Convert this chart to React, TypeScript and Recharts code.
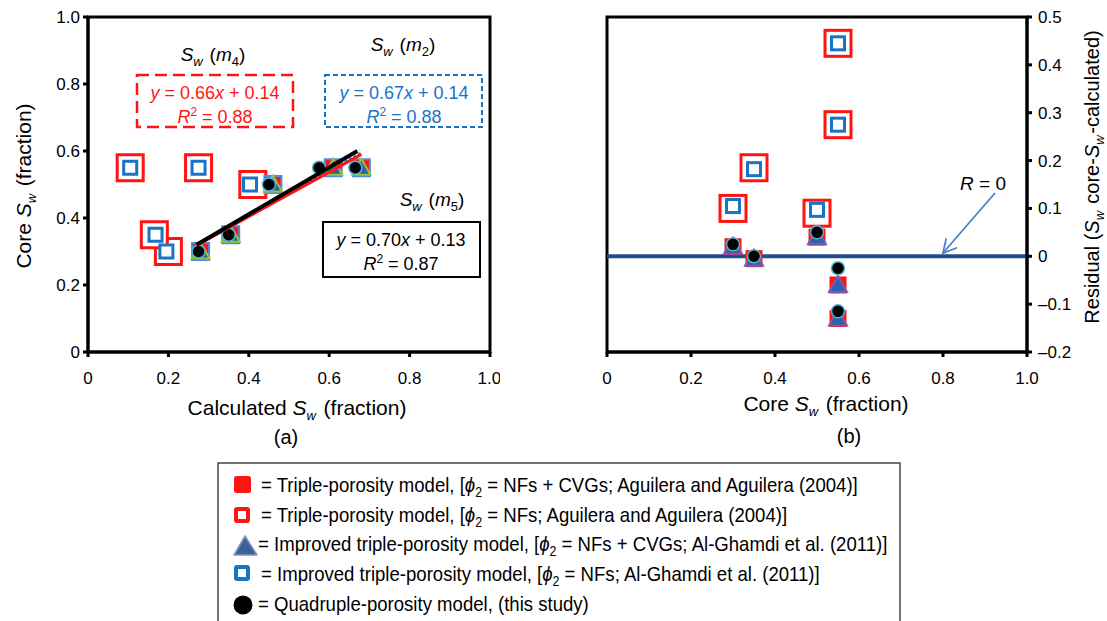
import React from 'react';
import {
  ScatterChart,
  Scatter,
  XAxis,
  YAxis,
  ReferenceArea,
  ReferenceLine,
} from 'recharts';

// five core samples (core Sw, fraction)
const coreSw = [0.3, 0.35, 0.5, 0.55, 0.55];

// calculated Sw per model, same sample order as coreSw
const tripleNfCvg = [0.28, 0.355, 0.46, 0.61, 0.68];
const tripleNf = [0.2, 0.165, 0.41, 0.105, 0.275];
const improvedNfCvg = [0.28, 0.355, 0.46, 0.61, 0.68];
const improvedNf = [0.195, 0.168, 0.403, 0.105, 0.275];
const quadruple = [0.275, 0.35, 0.45, 0.575, 0.665];

// trend line end points
const fitM4X = [0.28, 0.68];
const fitM4Y = [0.325, 0.59];
const fitM2X = [0.28, 0.68];
const fitM2Y = [0.328, 0.595];
const fitM5X = [0.27, 0.67];
const fitM5Y = [0.32, 0.6];

const xTicks = [0, 0.2, 0.4, 0.6, 0.8, 1.0];
const coreTicks = [0, 0.2, 0.4, 0.6, 0.8, 1.0];
const residTicks = [-0.2, -0.1, 0, 0.1, 0.2, 0.3, 0.4, 0.5];

const legendHead = [
  '= Triple-porosity model, [',
  '= Triple-porosity model, [',
  '= Improved triple-porosity model, [',
  '= Improved triple-porosity model, [',
];
const legendTail = [
  ' = NFs + CVGs; Aguilera and Aguilera (2004)]',
  ' = NFs; Aguilera and Aguilera (2004)]',
  ' = NFs + CVGs; Al-Ghamdi et al. (2011)]',
  ' = NFs; Al-Ghamdi et al. (2011)]',
];
const legendLast = '= Quadruple-porosity model, (this study)';

const RED = '#ff1414';
const BLUE = '#1874c6';
const FONT = '"Liberation Sans", Arial, Helvetica, sans-serif';

const toCross = (calc: number[]) => calc.map((c, i) => ({ x: c, y: coreSw[i] }));
const toResid = (calc: number[]) => calc.map((c, i) => ({ x: coreSw[i], y: coreSw[i] - c }));
const toLine = (xs: number[], ys: number[]) => xs.map((x, i) => ({ x, y: ys[i] }));

const fmtTick = (v: number) => {
  if (v === 0) return '0';
  if (v < 0) return '\u2013' + Math.abs(v).toFixed(1);
  return v.toFixed(1);
};

const OpenSquare = ({ cx, cy, size, color, width }: any) => (
  <rect
    x={cx - size / 2}
    y={cy - size / 2}
    width={size}
    height={size}
    fill="#fff"
    stroke={color}
    strokeWidth={width}
  />
);

const FilledSquare = ({ cx, cy, edge }: any) => (
  <rect
    x={cx - 8.5}
    y={cy - 8.5}
    width={17}
    height={17}
    fill={RED}
    stroke={edge || 'none'}
    strokeWidth={2}
  />
);

const Tri = ({ cx, cy, edge }: any) => (
  <polygon
    points={`${cx},${cy - 9} ${cx - 9},${cy + 7} ${cx + 9},${cy + 7}`}
    fill="#2a62ad"
    stroke={edge}
    strokeWidth={2}
  />
);

const Dot = ({ cx, cy }: any) => (
  <circle cx={cx} cy={cy} r={6.5} fill="#000" stroke="#4fb6d2" strokeWidth={1.5} />
);

const noShape = () => <g />;

const tickStyle = { fill: '#000', fontSize: 17, fontFamily: FONT };

const Sub = ({ base, sub }: any) => (
  <>
    <tspan fontStyle="italic">{base}</tspan>
    <tspan fontSize="13" dy="5" fontStyle="italic">
      {sub}
    </tspan>
    <tspan dy="-5">{'\u200a'}</tspan>
  </>
);

const SwM = ({ x, y, m }: any) => (
  <text x={x} y={y} textAnchor="middle" fontSize={19} fontFamily={FONT}>
    <Sub base="S" sub="w" />
    <tspan> (</tspan>
    <tspan fontStyle="italic">m</tspan>
    <tspan fontSize="13" dy="5">{m}</tspan>
    <tspan dy="-5">)</tspan>
  </text>
);

const Eq = ({ x, y, a, b, r2, color }: any) => (
  <g fontSize={18} fontFamily={FONT} fill={color} textAnchor="middle">
    <text x={x} y={y}>
      <tspan fontStyle="italic">y</tspan>
      <tspan>{` = ${a}`}</tspan>
      <tspan fontStyle="italic">x</tspan>
      <tspan>{` + ${b}`}</tspan>
    </text>
    <text x={x} y={y + 24}>
      <tspan fontStyle="italic">R</tspan>
      <tspan fontSize="12" dy="-7">2</tspan>
      <tspan dy="7">{` = ${r2}`}</tspan>
    </text>
  </g>
);

const LeftChart = () => (
  <ScatterChart width={500} height={460} margin={{ top: 17, right: 10, bottom: 0, left: 0 }}>
    <XAxis
      type="number"
      dataKey="x"
      domain={[0, 1]}
      ticks={xTicks}
      tickFormatter={fmtTick}
      height={108}
      axisLine={{ stroke: '#000', strokeWidth: 3 }}
      tickLine={{ stroke: '#000', strokeWidth: 3 }}
      tickSize={5}
      tickMargin={15}
      tick={tickStyle}
      allowDataOverflow
    />
    <YAxis
      type="number"
      dataKey="y"
      domain={[0, 1]}
      ticks={coreTicks}
      tickFormatter={fmtTick}
      width={88}
      axisLine={{ stroke: '#000', strokeWidth: 3 }}
      tickLine={{ stroke: '#000', strokeWidth: 3 }}
      tickSize={5}
      tickMargin={3}
      tick={tickStyle}
      allowDataOverflow
    />
    <ReferenceArea x1={0} x2={1} y1={0} y2={1} fill="none" stroke="#000" strokeWidth={3} />
    <Scatter data={toCross(tripleNf)} isAnimationActive={false}
      shape={(p: any) => <OpenSquare {...p} size={26} color={RED} width={3} />} />
    <Scatter data={toCross(improvedNf)} isAnimationActive={false}
      shape={(p: any) => <OpenSquare {...p} size={13} color={BLUE} width={3} />} />
    <Scatter data={toCross(tripleNfCvg)} isAnimationActive={false}
      shape={(p: any) => <FilledSquare {...p} edge="#4a8fd6" />} />
    <Scatter data={toCross(improvedNfCvg)} isAnimationActive={false}
      shape={(p: any) => <Tri {...p} edge="#9cc03e" />} />
    <Scatter data={toCross(quadruple)} isAnimationActive={false} shape={(p: any) => <Dot {...p} />} />
    <Scatter data={toLine(fitM2X, fitM2Y)} isAnimationActive={false} shape={noShape}
      line={{ stroke: BLUE, strokeWidth: 2, strokeDasharray: '3 2' }} />
    <Scatter data={toLine(fitM4X, fitM4Y)} isAnimationActive={false} shape={noShape}
      line={{ stroke: RED, strokeWidth: 3 }} />
    <Scatter data={toLine(fitM5X, fitM5Y)} isAnimationActive={false} shape={noShape}
      line={{ stroke: '#000', strokeWidth: 4 }} />
  </ScatterChart>
);

const RightChart = () => (
  <ScatterChart width={547} height={460} margin={{ top: 17, right: 0, bottom: 0, left: 47 }}>
    <XAxis
      type="number"
      dataKey="x"
      domain={[0, 1]}
      ticks={coreTicks}
      tickFormatter={fmtTick}
      height={108}
      axisLine={{ stroke: '#000', strokeWidth: 3 }}
      tickLine={{ stroke: '#000', strokeWidth: 3 }}
      tickSize={5}
      tickMargin={15}
      tick={tickStyle}
      allowDataOverflow
    />
    <YAxis
      type="number"
      dataKey="y"
      orientation="right"
      domain={[-0.2, 0.5]}
      ticks={residTicks}
      tickFormatter={fmtTick}
      width={80}
      axisLine={{ stroke: '#000', strokeWidth: 3 }}
      tickLine={{ stroke: '#000', strokeWidth: 3 }}
      tickSize={5}
      tickMargin={6}
      tick={tickStyle}
      allowDataOverflow
    />
    <ReferenceArea x1={0} x2={1} y1={-0.2} y2={0.5} fill="none" stroke="#000" strokeWidth={3} />
    <ReferenceLine y={0} stroke="#1f4e8c" strokeWidth={4} />
    <Scatter data={toResid(tripleNf)} isAnimationActive={false}
      shape={(p: any) => <OpenSquare {...p} size={26} color={RED} width={3} />} />
    <Scatter data={toResid(improvedNf)} isAnimationActive={false}
      shape={(p: any) => <OpenSquare {...p} size={13} color={BLUE} width={3} />} />
    <Scatter data={toResid(tripleNfCvg)} isAnimationActive={false}
      shape={(p: any) => <FilledSquare {...p} />} />
    <Scatter data={toResid(improvedNfCvg)} isAnimationActive={false}
      shape={(p: any) => <Tri {...p} edge="#8a55a8" />} />
    <Scatter data={toResid(quadruple)} isAnimationActive={false} shape={(p: any) => <Dot {...p} />} />
  </ScatterChart>
);

// arrow pointing at the R = 0 line
const arrowFrom = [995, 193];
const arrowTo = [943, 253];
const arrowHead = () => {
  const dx = arrowFrom[0] - arrowTo[0];
  const dy = arrowFrom[1] - arrowTo[1];
  const len = Math.hypot(dx, dy);
  const ux = dx / len;
  const uy = dy / len;
  const pts = [0.5, -0.5].map((a) => {
    const c = Math.cos(a);
    const s = Math.sin(a);
    return [arrowTo[0] + 15 * (ux * c - uy * s), arrowTo[1] + 15 * (ux * s + uy * c)];
  });
  return `${pts[0][0]},${pts[0][1]} ${arrowTo[0]},${arrowTo[1]} ${pts[1][0]},${pts[1][1]}`;
};

const legendX = [261, 261, 258, 261];

const Overlay = () => (
  <svg
    width={1107}
    height={621}
    style={{ position: 'absolute', left: 0, top: 0, pointerEvents: 'none' }}
  >
    {/* panel (a) annotations */}
    <SwM x={213} y={61} m="4" />
    <SwM x={403} y={51} m="2" />
    <SwM x={432} y={206} m="5" />
    <rect x={137} y={75} width={156} height={52} fill="none" stroke={RED} strokeWidth={2.5} strokeDasharray="12 6" />
    <rect x={325} y={75} width={157} height={52} fill="none" stroke={BLUE} strokeWidth={2} strokeDasharray="5 3" />
    <rect x={323} y={222} width={157} height={55} fill="none" stroke="#000" strokeWidth={2} />
    <Eq x={215} y={99} a="0.66" b="0.14" r2="0.88" color={RED} />
    <Eq x={404} y={99} a="0.67" b="0.14" r2="0.88" color={BLUE} />
    <Eq x={401} y={246} a="0.70" b="0.13" r2="0.87" color="#000" />

    {/* axis titles */}
    <text x={297} y={415} textAnchor="middle" fontSize={21} fontFamily={FONT}>
      <tspan>Calculated </tspan>
      <Sub base="S" sub="w" />
      <tspan> (fraction)</tspan>
    </text>
    <text x={286} y={444} textAnchor="middle" fontSize={20} fontFamily={FONT}>(a)</text>
    <text
      transform="translate(31,186) rotate(-90)"
      textAnchor="middle"
      fontSize={21}
      fontFamily={FONT}
    >
      <tspan>Core </tspan>
      <Sub base="S" sub="w" />
      <tspan> (fraction)</tspan>
    </text>
    <text x={826} y={411} textAnchor="middle" fontSize={21} fontFamily={FONT}>
      <tspan>Core </tspan>
      <Sub base="S" sub="w" />
      <tspan> (fraction)</tspan>
    </text>
    <text x={849} y={443} textAnchor="middle" fontSize={20} fontFamily={FONT}>(b)</text>
    <text
      transform="translate(1099,177) rotate(-90)"
      textAnchor="middle"
      fontSize={20}
      fontFamily={FONT}
    >
      <tspan>Residual (</tspan>
      <Sub base="S" sub="w" />
      <tspan> core-</tspan>
      <Sub base="S" sub="w" />
      <tspan>-calculated)</tspan>
    </text>

    {/* R = 0 arrow */}
    <text x={983} y={190} textAnchor="middle" fontSize={19} fontFamily={FONT}>
      <tspan fontStyle="italic">R</tspan>
      <tspan> = 0</tspan>
    </text>
    <line x1={arrowFrom[0]} y1={arrowFrom[1]} x2={arrowTo[0]} y2={arrowTo[1]} stroke="#4d80c8" strokeWidth={1.8} />
    <polyline points={arrowHead()} fill="none" stroke="#4d80c8" strokeWidth={1.8} />

    {/* legend */}
    <rect x={218} y={463} width={682} height={170} fill="#fff" stroke="#444" strokeWidth={1.5} />
    <rect x={234} y={476} width={17} height={17} rx={2.5} fill={RED} />
    <rect x={236} y={509} width={12} height={12} rx={1} fill="#fff" stroke={RED} strokeWidth={4} />
    <polygon points="245,536 234,555 257,555" fill="#3d6198" stroke="#7f98c0" strokeWidth={1.5} strokeLinejoin="round" />
    <rect x={236} y={567} width={12} height={12} rx={1} fill="#fff" stroke={BLUE} strokeWidth={4} />
    <ellipse cx={243} cy={605} rx={9.5} ry={9.5} fill="#000" />
    {legendHead.map((h, i) => (
      <text
        key={i}
        transform={`translate(${legendX[i]},${492 + i * 29.5}) scale(0.885,1)`}
        fontSize={21}
        fontFamily={FONT}
      >
        <tspan>{h}</tspan>
        <tspan fontStyle="italic">{'\u03d5'}</tspan>
        <tspan fontSize="14" dy="5">2</tspan>
        <tspan dy="-5">{legendTail[i]}</tspan>
      </text>
    ))}
    <text transform="translate(258,610.5) scale(0.885,1)" fontSize={21} fontFamily={FONT}>
      {legendLast}
    </text>
  </svg>
);

export default function App() {
  return (
    <div style={{ position: 'absolute', left: 0, top: 0, width: 1107, height: 621, background: '#fff' }}>
      <div style={{ position: 'absolute', left: 0, top: 0 }}>
        <LeftChart />
      </div>
      <div style={{ position: 'absolute', left: 560, top: 0 }}>
        <RightChart />
      </div>
      <Overlay />
    </div>
  );
}
